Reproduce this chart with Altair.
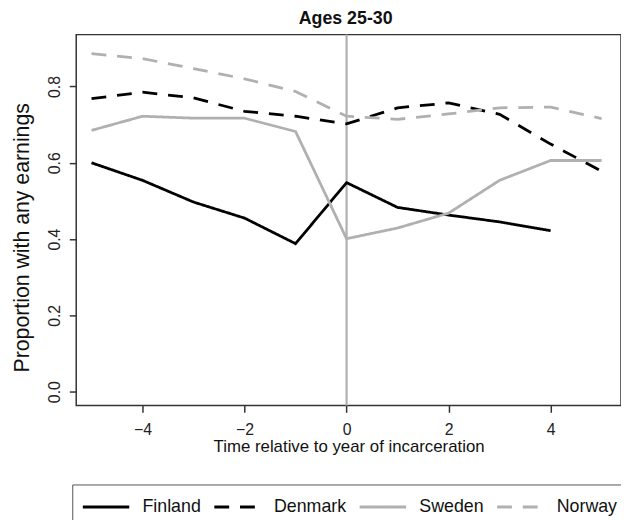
import altair as alt
import pandas as pd

years = [-5, -4, -3, -2, -1, 0, 1, 2, 3, 4, 5]
finland = [0.600, 0.554, 0.497, 0.455, 0.388, 0.548, 0.483, 0.463, 0.445, 0.422, None]
denmark = [0.768, 0.785, 0.770, 0.735, 0.722, 0.702, 0.744, 0.757, 0.727, 0.649, 0.578]
sweden = [0.685, 0.722, 0.717, 0.717, 0.682, 0.401, 0.429, 0.468, 0.554, 0.606, 0.606]
norway = [0.886, 0.873, 0.847, 0.820, 0.787, 0.722, 0.714, 0.728, 0.744, 0.746, 0.716]
countries = ["Finland", "Denmark", "Sweden", "Norway"]
x_ticks = [-4, -2, 0, 2, 4]
y_ticks = [0.0, 0.2, 0.4, 0.6, 0.8]
event_year = [0]

series = {"Finland": finland, "Denmark": denmark, "Sweden": sweden, "Norway": norway}
rows = []
for c in countries:
    for yr, v in zip(years, series[c]):
        if v is not None:
            rows.append({"year": yr, "value": v, "country": c})
df = pd.DataFrame(rows)
rule_df = pd.DataFrame({"year": event_year})

FONT = "Liberation Sans"
GRAY = "#b0b0b0"

x_scale = alt.Scale(domain=[-5.30, 5.38], nice=False, zero=False)
y_scale = alt.Scale(domain=[-0.036, 0.936], nice=False, zero=False)

legend = alt.Legend(
    orient="none",
    legendX=-4,
    legendY=455,
    direction="horizontal",
    columns=4,
    symbolType="M-1,0H5",
    symbolSize=245,
    symbolStrokeWidth=3,
    symbolOffset=-4,
    labelFontSize=18,
    labelFont=FONT,
    labelColor="#111111",
    labelOffset=43,
    columnPadding=6,
    padding=13,
    strokeColor="#555555",
)

rule = alt.Chart(rule_df).mark_rule(color=GRAY, strokeWidth=2.2).encode(
    x=alt.X("year:Q", scale=x_scale)
)

lines = alt.Chart(df).mark_line(strokeWidth=2.8, strokeCap="butt").encode(
    x=alt.X(
        "year:Q",
        scale=x_scale,
        axis=alt.Axis(
            values=x_ticks,
            format="d",
            title="Time relative to year of incarceration",
            titleFontSize=17,
            titleY=47,
            titleBaseline="alphabetic",
            labelFontSize=16,
            labelPadding=9,
        ),
    ),
    y=alt.Y(
        "value:Q",
        scale=y_scale,
        axis=alt.Axis(
            values=y_ticks,
            format=".1f",
            title="Proportion with any earnings",
            titleFontSize=21.5,
            titleAngle=270,
            titleAlign="center",
            titleBaseline="alphabetic",
            titleX=-48,
            titleY=205,
            labelFontSize=16,
            labelAngle=270,
            labelAlign="center",
            labelBaseline="alphabetic",
            labelPadding=10,
        ),
    ),
    color=alt.Color(
        "country:N",
        scale=alt.Scale(domain=countries, range=["#000000", "#000000", GRAY, GRAY]),
        title=None,
        legend=legend,
    ),
    strokeDash=alt.StrokeDash(
        "country:N",
        scale=alt.Scale(domain=countries, range=[[1, 0], [15, 11], [1, 0], [15, 11]]),
        title=None,
        legend=legend,
    ),
    order=alt.Order("year:Q"),
)

chart = (
    alt.layer(rule, lines)
    .properties(
        width=551,
        height=375,
        autosize=alt.AutoSizeParams(type="none"),
        padding={"left": 69, "top": 24, "right": 0, "bottom": 113},
        title=alt.TitleParams(
            "Ages 25-30",
            fontSize=18,
            fontWeight="bold",
            font=FONT,
            anchor="middle",
            baseline="alphabetic",
            offset=6,
            dy=14,
            dx=-3,
            color="#111111",
        ),
    )
    .configure_view(stroke="#333333", strokeWidth=1.5)
    .configure_axis(
        labelFont=FONT,
        titleFont=FONT,
        labelColor="#222222",
        titleColor="#111111",
        titleFontWeight="normal",
        tickColor="#333333",
        tickSize=7,
        tickWidth=1.5,
        domain=False,
        grid=False,
    )
)

chart.save("out.html", embed_options={"renderer": "svg", "actions": False})
